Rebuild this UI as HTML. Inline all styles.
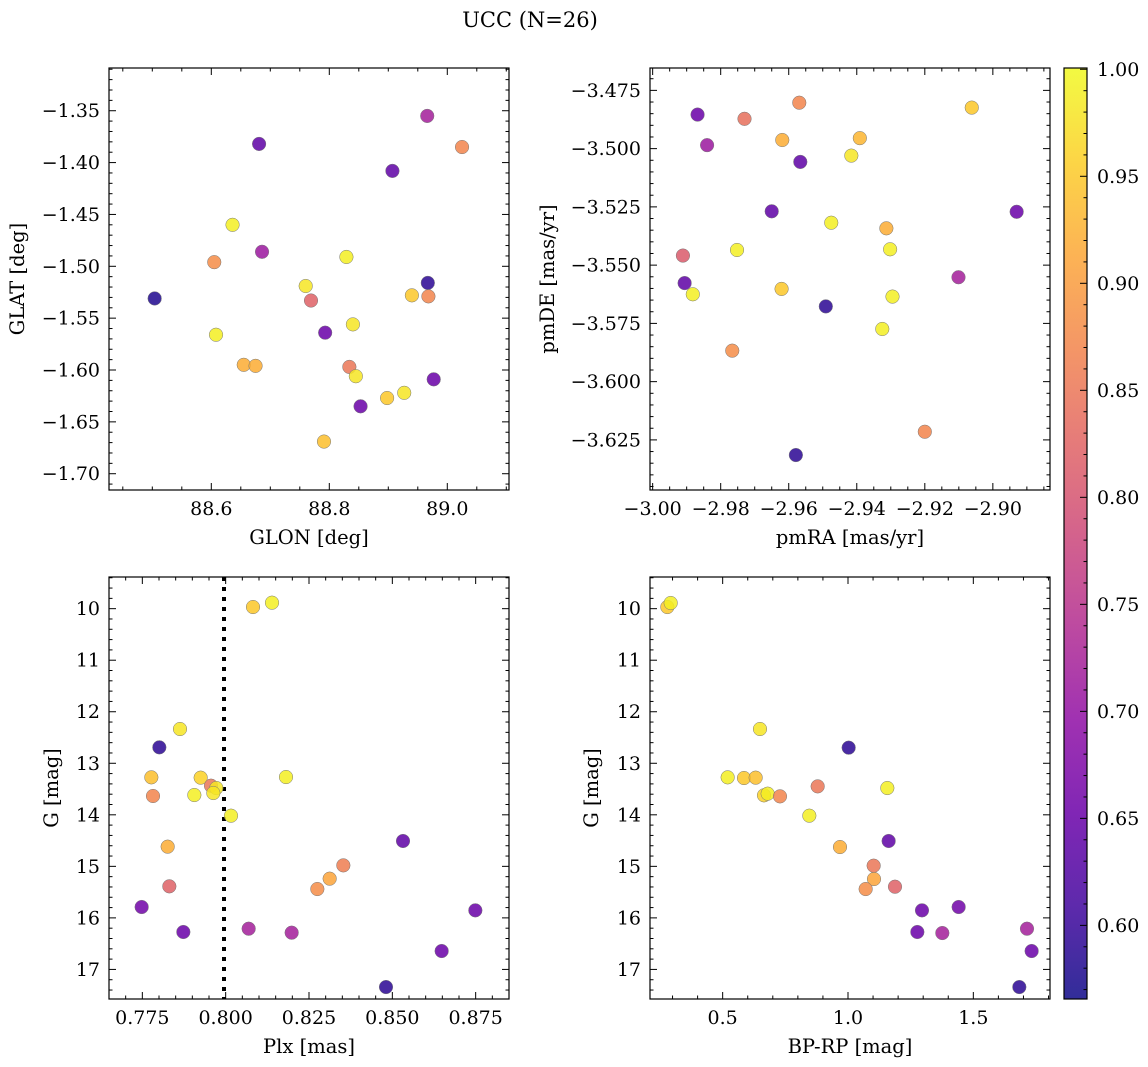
<!DOCTYPE html>
<html><head><meta charset="utf-8"><title>UCC (N=26)</title>
<style>
html,body{margin:0;padding:0;background:#fff;}
svg{display:block;font-family:"DejaVu Serif","Liberation Serif",serif;}
</style></head>
<body>
<svg id="fig" width="1148" height="1067" viewBox="0 0 1148 1067" xmlns="http://www.w3.org/2000/svg">
<text x="530" y="27" font-size="21" text-anchor="middle">UCC (N=26)</text>
</svg>
<script>
// ---- Panel 1: GLON / GLAT ----
const glon = [88.681,88.966,89.025,88.907,88.636,88.686,88.605,88.829,88.504,88.760,88.769,88.967,88.940,88.968,88.608,88.793,88.840,88.655,88.675,88.834,88.845,88.977,88.898,88.927,88.853,88.791];
const glat = [-1.382,-1.355,-1.385,-1.408,-1.460,-1.486,-1.496,-1.491,-1.531,-1.519,-1.533,-1.516,-1.528,-1.529,-1.566,-1.564,-1.556,-1.595,-1.596,-1.597,-1.606,-1.609,-1.627,-1.622,-1.635,-1.669];
const prob1 = [0.64,0.72,0.87,0.64,0.99,0.71,0.88,0.99,0.58,0.98,0.82,0.59,0.95,0.87,0.99,0.65,0.98,0.92,0.92,0.85,0.98,0.65,0.95,0.98,0.65,0.94];
// ---- Panel 2: pmRA / pmDE ----
const pmra = [-2.9868,-2.9730,-2.9569,-2.9062,-2.9840,-2.9619,-2.9391,-2.9416,-2.9566,-2.9650,-2.8930,-2.9475,-2.9313,-2.9752,-2.9302,-2.9911,-2.9906,-2.9882,-2.9101,-2.9621,-2.9295,-2.9491,-2.9325,-2.9766,-2.9200,-2.9579];
const pmde = [-3.4854,-3.4872,-3.4803,-3.4824,-3.4985,-3.4963,-3.4955,-3.5030,-3.5057,-3.5269,-3.5271,-3.5318,-3.5342,-3.5435,-3.5432,-3.5459,-3.5577,-3.5625,-3.5552,-3.5602,-3.5635,-3.5677,-3.5774,-3.5867,-3.6215,-3.6315];
const prob2 = [0.65,0.84,0.87,0.95,0.71,0.92,0.93,0.98,0.64,0.64,0.65,0.99,0.92,0.99,0.99,0.81,0.64,0.99,0.72,0.95,0.99,0.59,0.99,0.88,0.87,0.59];
// ---- Panel 3: Plx / G ----
const plx = [0.8082,0.8139,0.7863,0.7801,0.7777,0.7925,0.7956,0.7972,0.7963,0.7906,0.7782,0.8181,0.8016,0.7826,0.8532,0.8353,0.8312,0.8275,0.7831,0.7748,0.8749,0.7873,0.8069,0.8198,0.8648,0.8481];
const gmag3 = [9.968,9.884,12.335,12.691,13.273,13.279,13.435,13.480,13.577,13.616,13.635,13.267,14.017,14.618,14.508,14.981,15.239,15.440,15.388,15.789,15.854,16.274,16.210,16.287,16.643,17.342];
const prob3 = [0.95,0.99,0.98,0.59,0.94,0.96,0.85,0.98,0.98,0.99,0.87,0.99,0.99,0.92,0.64,0.86,0.91,0.88,0.82,0.66,0.65,0.65,0.72,0.72,0.65,0.59];
const plxCut = [0.7995];
// ---- Panel 4: BP-RP / G ----
const bprp = [0.2793,0.2926,0.6489,1.0027,0.5199,0.5851,0.6316,0.6649,0.6795,0.7287,0.8790,1.1569,0.8457,0.9681,1.1622,1.1024,1.1037,1.0705,1.1875,1.2952,1.4415,1.2766,1.3763,1.7141,1.7327,1.6835];
const gmag4 = [9.968,9.890,12.335,12.697,13.273,13.286,13.279,13.622,13.590,13.642,13.448,13.480,14.017,14.625,14.508,14.987,15.246,15.440,15.395,15.854,15.789,16.274,16.294,16.210,16.643,17.342];
const prob4 = [0.95,0.99,0.98,0.59,0.99,0.95,0.94,0.96,0.99,0.87,0.85,0.99,0.99,0.92,0.64,0.85,0.91,0.88,0.82,0.65,0.66,0.65,0.72,0.72,0.65,0.59];
// ---- tick labels ----
const ticksGlon = [88.6,88.8,89.0];
const ticksGlat = [-1.35,-1.40,-1.45,-1.50,-1.55,-1.60,-1.65,-1.70];
const ticksPmra = [-3.00,-2.98,-2.96,-2.94,-2.92,-2.90];
const ticksPmde = [-3.475,-3.500,-3.525,-3.550,-3.575,-3.600,-3.625];
const ticksPlx = [0.775,0.800,0.825,0.850,0.875];
const ticksG = [10,11,12,13,14,15,16,17];
const ticksBprp = [0.5,1.0,1.5];
const ticksCbar = [0.60,0.65,0.70,0.75,0.80,0.85,0.90,0.95,1.00];
const cbarRange = [0.5656,1.0006];

const NS = "http://www.w3.org/2000/svg";
const fig = document.getElementById('fig');
const FS = 19;
const plasma = [[13,8,135],[65,4,157],[106,0,168],[143,13,164],[177,42,144],[204,71,120],[225,100,98],[242,132,75],[252,166,54],[252,206,37],[240,249,33]];
function cmap(t){
  t=Math.max(0,Math.min(1,t));const f=t*10;const i=Math.min(9,Math.floor(f));const r=f-i;
  const a=plasma[i],b=plasma[i+1];
  return 'rgb('+a.map((v,k)=>Math.round(v+(b[k]-v)*r)).join(',')+')';
}
function colorOf(p){return cmap((p-cbarRange[0])/(cbarRange[1]-cbarRange[0]));}
function mk(tag,attrs,parent){const e=document.createElementNS(NS,tag);for(const k in attrs)e.setAttribute(k,attrs[k]);(parent||fig).appendChild(e);return e;}
function fmt(v,d){return (v<0?'\u2212':'')+Math.abs(v).toFixed(d);}

function panel(o){
  const g=mk('g',{});
  
  
  const sx=v=>o.x+(v-o.xd[0])/(o.xd[1]-o.xd[0])*o.w;
  const sy=v=>o.y+(v-o.yd[0])/(o.yd[1]-o.yd[0])*o.h;
  const clipId='clip-'+o.name;
  const cp=mk('clipPath',{id:clipId},g);mk('rect',{x:o.x,y:o.y,width:o.w,height:o.h},cp);
  const tk=mk('g',{stroke:'#000','stroke-width':1},g);
  
  
  const lo=Math.min(...o.xd),hi=Math.max(...o.xd);
  for(let v=Math.ceil(lo/o.xminor-1e-6)*o.xminor;v<=hi+1e-9;v+=o.xminor){
    const X=sx(v);const major=o.xt.some(t=>Math.abs(t-v)<o.xminor/10);const L=major?7:3.5;
    mk('line',{x1:X,x2:X,y1:o.y+o.h,y2:o.y+o.h-L},tk);mk('line',{x1:X,x2:X,y1:o.y,y2:o.y+L},tk);
  }
  const ylo=Math.min(...o.yd),yhi=Math.max(...o.yd);
  for(let v=Math.ceil(ylo/o.yminor-1e-6)*o.yminor;v<=yhi+1e-9;v+=o.yminor){
    const Y=sy(v);const major=o.yt.some(t=>Math.abs(t-v)<o.yminor/10);const L=major?7:3.5;
    mk('line',{x1:o.x,x2:o.x+L,y1:Y,y2:Y},tk);mk('line',{x1:o.x+o.w,x2:o.x+o.w-L,y1:Y,y2:Y},tk);
  }
  o.xt.forEach(t=>{
    const e=mk('text',{x:sx(t),y:o.y+o.h+25,'font-size':FS,'text-anchor':'middle'},g);e.textContent=fmt(t,o.xdec);
    
    
  });
  o.yt.forEach(t=>{
    const e=mk('text',{x:o.x-9,y:sy(t)+6.5,'font-size':FS,'text-anchor':'end'},g);e.textContent=fmt(t,o.ydec);
    
    
  });
  const xl=mk('text',{x:o.x+o.w/2,y:o.y+o.h+54,'font-size':FS+0.5,'text-anchor':'middle'},g);xl.textContent=o.xlabel;
  
  
  const yx=o.ylx,yy=o.y+o.h/2;
  const yl=mk('text',{x:yx,y:yy,'font-size':FS+0.5,'text-anchor':'middle',transform:'rotate(-90 '+yx+' '+yy+')'},g);yl.textContent=o.ylabel;
  
  
  const pts=mk('g',{'clip-path':'url(#'+clipId+')'},g);
  if(o.vline){o.vline.forEach(v=>{
    const l=mk('line',{x1:sx(v),x2:sx(v),y1:o.y,y2:o.y+o.h,stroke:'#000','stroke-width':4,'stroke-dasharray':'4 6'},pts);
    
    
  });}
  o.xs.forEach((v,i)=>{
    const c=mk('circle',{cx:sx(v),cy:sy(o.ys[i]),r:6.8,fill:colorOf(o.c[i]),'fill-opacity':0.85,stroke:'#777','stroke-width':0.5},pts);
    
    
  });
  const fr=mk('rect',{x:o.x,y:o.y,width:o.w,height:o.h,fill:'none',stroke:'#000','stroke-width':1.2},g);
  
  
}

panel({name:'glon-glat-panel',x:109,y:68,w:400,h:422,xd:[88.4266,89.1046],yd:[-1.3088,-1.7157],xs:glon,ys:glat,c:prob1,xt:ticksGlon,yt:ticksGlat,xminor:0.05,yminor:0.01,xdec:1,ydec:2,xlabel:'GLON [deg]',ylabel:'GLAT [deg]',ylx:24});
panel({name:'pm-panel',x:650,y:68,w:400,h:422,xd:[-3.00078,-2.8832],yd:[-3.4654,-3.6465],xs:pmra,ys:pmde,c:prob2,xt:ticksPmra,yt:ticksPmde,xminor:0.005,yminor:0.005,xdec:2,ydec:3,xlabel:'pmRA [mas/yr]',ylabel:'pmDE [mas/yr]',ylx:554});
panel({name:'plx-g-panel',x:109,y:577,w:400,h:422,xd:[0.765,0.885],yd:[9.3855,17.574],xs:plx,ys:gmag3,c:prob3,xt:ticksPlx,yt:ticksG,xminor:0.005,yminor:0.2,xdec:3,ydec:0,xlabel:'Plx [mas]',ylabel:'G [mag]',ylx:58,vline:plxCut});
panel({name:'cmd-panel',x:650,y:577,w:400,h:422,xd:[0.2101,1.8059],yd:[9.3855,17.574],xs:bprp,ys:gmag4,c:prob4,xt:ticksBprp,yt:ticksG,xminor:0.1,yminor:0.2,xdec:1,ydec:0,xlabel:'BP-RP [mag]',ylabel:'G [mag]',ylx:598});

// colorbar
(function(){
  const x=1064,y=68,w=23,h=931;
  const g=mk('g',{});
  
  
  const defs=mk('defs',{},g);
  const lg=mk('linearGradient',{id:'cbgrad',x1:0,y1:1,x2:0,y2:0},defs);
  for(let i=0;i<=20;i++){mk('stop',{offset:i/20,'stop-color':cmap(i/20),'stop-opacity':0.85},lg);}
  mk('rect',{x:x,y:y,width:w,height:h,fill:'url(#cbgrad)'},g);
  const sy=v=>y+h-(v-cbarRange[0])/(cbarRange[1]-cbarRange[0])*h;
  for(let v=0.57;v<=1.0001;v+=0.01){
    const Y=sy(v);const major=ticksCbar.some(t=>Math.abs(t-v)<0.001);
    mk('line',{x1:x+w,x2:x+w-(major?7:3.5),y1:Y,y2:Y,stroke:'#000','stroke-width':1},g);
  }
  ticksCbar.forEach(t=>{
    const e=mk('text',{x:x+w+10,y:sy(t)+6.5,'font-size':FS},g);e.textContent=t.toFixed(2);
    
    
  });
  mk('rect',{x:x,y:y,width:w,height:h,fill:'none',stroke:'#000','stroke-width':1.2},g);
})();
</script>
</body></html>
